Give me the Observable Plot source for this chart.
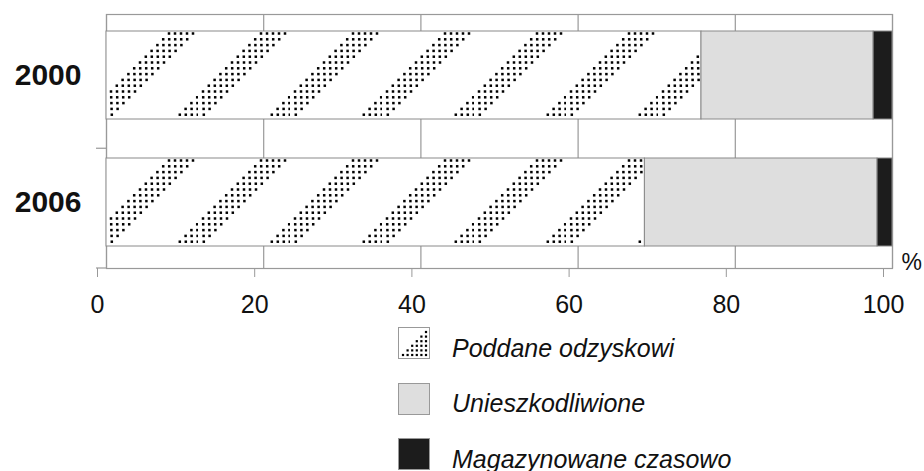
<!DOCTYPE html>
<html>
<head>
<meta charset="utf-8">
<script src="https://cdn.jsdelivr.net/npm/d3@7"></script>
<script src="https://cdn.jsdelivr.net/npm/@observablehq/plot@0.6"></script>
<style>
  body { margin: 0; background: #fff; font-family: "Liberation Sans", Arial, sans-serif; }
  #legend { padding-top: 5px; margin-left: 398px; }
  .row { display: flex; align-items: center; height: 32px; margin-bottom: 23.5px; }
  .row span { margin-left: 22px; font-size: 25px; font-style: italic; color: #111; position: relative; top: 5px; white-space: nowrap; }
  .sw { width: 30px; height: 30px; border: 1px solid #999; box-sizing: content-box; }
</style>
</head>
<body>
<div id="chart"></div>
<div id="legend"></div>
<script>
// ---- data ----
const years = ["2000", "2006"];
const seriesNames = ["Poddane odzyskowi", "Unieszkodliwione", "Magazynowane czasowo"];
const odzysk = [75.7, 68.5];
const unieszkodliwione = [21.9, 29.6];
const magazynowane = [2.4, 1.9];
const xTicks = [0, 20, 40, 60, 80, 100];

const fills = ["url(#odzysk)", "#dedede", "#1c1c1c"];
const seriesValues = [odzysk, unieszkodliwione, magazynowane];

// cumulative rows
const rows = [];
years.forEach((year, i) => {
  let acc = 0;
  seriesValues.forEach((vals, s) => {
    rows.push({year, series: seriesNames[s], start: acc, end: acc + vals[i]});
    acc += vals[i];
  });
});

const plot = Plot.plot({
  width: 924,
  height: 322,
  marginLeft: 106,
  marginRight: 32,
  marginTop: 14,
  marginBottom: 54,
  style: {fontFamily: "'Liberation Sans', Arial, sans-serif", color: "#111", background: "white", overflow: "visible"},
  x: {domain: [0, 100]},
  y: {domain: years, range: [11, 266], paddingInner: 0.31, paddingOuter: 0.155},
  marks: [
    Plot.gridX(xTicks, {stroke: "#999", strokeOpacity: 1, strokeWidth: 1.2}),
    Plot.frame({stroke: "#999", strokeWidth: 1.2}),
    ...seriesNames.map((name, s) =>
      Plot.barX(rows.filter(d => d.series === name), {
        x1: "start", x2: "end", y: "year",
        fill: fills[s], stroke: "#8a8a8a", strokeWidth: 1
      })
    ),
    Plot.axisX({ticks: xTicks, tickSize: 9, tickPadding: 18, fontSize: 25, dx: -9, stroke: "#999", fill: "#111", label: null}),
    Plot.axisY({tickSize: 0, tickPadding: 25, fontSize: 30, fontWeight: "bold", fill: "#111", label: null}),
    Plot.text(["%"], {frameAnchor: "bottom-right", dx: 9, dy: 1, textAnchor: "start", lineAnchor: "bottom", fontSize: 23, fill: "#111"})
  ]
});

document.getElementById("chart").appendChild(plot);

// ---- dotted diagonal pattern for "Poddane odzyskowi" ----
const svg = d3.select(plot);
const yScale = plot.scale("y");
const bw = yScale.bandwidth;
const step = yScale.step;
const rects = svg.selectAll('g[fill="url(#odzysk)"] rect').nodes();
const r0 = rects[0];
const px = +r0.getAttribute("x"), py = +r0.getAttribute("y"), ph = +r0.getAttribute("height");
const period = 92, rowGap = 5.8, dotGap = 6;
const defs = svg.insert("defs", ":first-child");
const pat = defs.append("pattern")
  .attr("id", "odzysk")
  .attr("patternUnits", "userSpaceOnUse")
  .attr("x", px).attr("y", py)
  .attr("width", period).attr("height", step);
pat.append("rect").attr("width", period).attr("height", step).attr("fill", "white");
for (let r = 0; r * rowGap + 2 < ph; r++) {
  const yy = 2.5 + r * rowGap;
  const start = 63 - r * rowGap;
  for (let k = 0; k < 5; k++) {
    let xx = start + k * dotGap;
    xx = ((xx % period) + period) % period;
    pat.append("rect").attr("x", xx - 1.25).attr("y", yy - 1.25).attr("width", 2.5).attr("height", 2.5).attr("fill", "#000");
  }
}

// ---- small category ticks on the left axis (band boundaries) ----
const x0 = plot.scale("x").apply(0);
const boundaries = [
  (yScale.apply(years[0]) + bw + yScale.apply(years[1])) / 2 + (step - bw) / 4,
  yScale.range[1] + 2
];
svg.append("g").selectAll("line").data(boundaries).join("line")
  .attr("x1", x0 - 10).attr("x2", x0).attr("y1", d => d).attr("y2", d => d)
  .attr("stroke", "#999").attr("stroke-width", 1.2);

// ---- legend ----
const legend = d3.select("#legend");
seriesNames.forEach((name, s) => {
  const row = legend.append("div").attr("class", "row");
  if (s === 0) {
    const sv = row.append("svg").attr("width", 32).attr("height", 32);
    sv.append("rect").attr("x", 0.5).attr("y", 0.5).attr("width", 31).attr("height", 31).attr("fill", "white").attr("stroke", "#999");
    for (let i = 0; i < 6; i++) {
      const yy = 28 - i * 4.6;
      for (let j = 0; j < 6 - i; j++) {
        const xx = 28 - j * 4.6;
        sv.append("rect").attr("x", xx - 1.1).attr("y", yy - 1.1).attr("width", 2.2).attr("height", 2.2).attr("fill", "#000");
      }
    }
  } else {
    row.append("div").attr("class", "sw").style("background", fills[s]);
  }
  row.append("span").text(name);
});
</script>
</body>
</html>
